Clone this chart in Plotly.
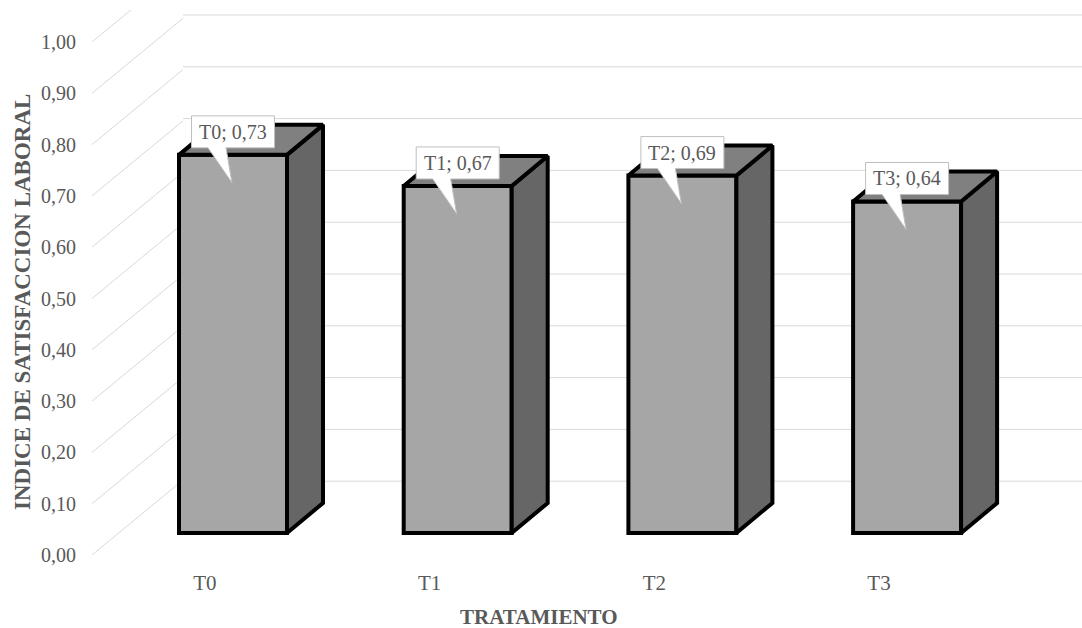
import plotly.graph_objects as go

# ---------------- data ----------------
categories = ["T0", "T1", "T2", "T3"]
values = [0.73, 0.67, 0.69, 0.64]
tick_vals = [0.0, 0.1, 0.2, 0.3, 0.4, 0.5, 0.6, 0.7, 0.8, 0.9, 1.0]
tick_text = ["0,00", "0,10", "0,20", "0,30", "0,40", "0,50", "0,60", "0,70", "0,80", "0,90", "1,00"]
label_text = [f"{c}; {v:.2f}".replace(".", ",") for c, v in zip(categories, values)]
x_title = "TRATAMIENTO"
y_title = "INDICE DE SATISFACCION LABORAL"

# ---------------- geometry / style ----------------
W, H = 1082, 628
ML, MR, MT, MB = 0, 0, 10, 60
PX_X = 224.7          # pixels per category step
PX_Y = 518.0          # pixels per value unit (front plane)
X0_PX = 233.0         # pixel of first category centre
Y0_PX = 533.0         # pixel of value 0 (front plane)

x_range = [(ML - X0_PX) / PX_X, (W - MR - X0_PX) / PX_X]
y_range = [(Y0_PX - (H - MB)) / PX_Y, (Y0_PX - MT) / PX_Y]
# tick-label axis (Excel places labels on the side wall front edge)
LBL0_PX, LBL_PX = 555.0, 513.0
y2_range = [(LBL0_PX - (H - MB)) / LBL_PX, (LBL0_PX - MT) / LBL_PX]

BAR_W = 108 / PX_X
DX = 36 / PX_X
DY = 30 / PX_Y
WALL_FRONT_X = (92 - X0_PX) / PX_X
WALL_BACK_X = (183 - X0_PX) / PX_X
WALL_DY = 75 / PX_Y

FRONT_C = "#a6a6a6"
SIDE_C = "#666666"
TOP_C = "#808080"
GRID_C = "#d9d9d9"
TEXT_C = "#595959"
FONT = "Liberation Serif"

fig = go.Figure()
shapes = []

# back-wall gridlines
for v in tick_vals[1:]:
    shapes.append(dict(type="line", xref="x", yref="y", layer="below",
                       x0=WALL_BACK_X, x1=x_range[1], y0=v, y1=v,
                       line=dict(color=GRID_C, width=1)))
# side-wall gridlines (diagonals)
for v in tick_vals:
    yf = (LBL_PX * v - (LBL0_PX - Y0_PX)) / PX_Y
    shapes.append(dict(type="line", xref="x", yref="y", layer="below",
                       x0=WALL_FRONT_X, x1=WALL_BACK_X, y0=yf, y1=yf + WALL_DY,
                       line=dict(color=GRID_C, width=1)))

xs = list(range(len(categories)))

# front faces
fig.add_trace(go.Bar(x=xs, y=values, width=BAR_W, base=0,
                     marker=dict(color=FRONT_C, line=dict(color="black", width=4)),
                     hoverinfo="skip", showlegend=False))

# side and top faces
for x, v in zip(xs, values):
    r = x + BAR_W / 2
    l = x - BAR_W / 2
    fig.add_trace(go.Scatter(
        x=[r, r + DX, r + DX, r, r], y=[0, DY, v + DY, v, 0],
        fill="toself", fillcolor=SIDE_C, mode="lines",
        line=dict(color="black", width=4), hoverinfo="skip", showlegend=False))
    fig.add_trace(go.Scatter(
        x=[l, l + DX, r + DX, r, l], y=[v, v + DY, v + DY, v, v],
        fill="toself", fillcolor=TOP_C, mode="lines",
        line=dict(color="black", width=4), hoverinfo="skip", showlegend=False))

# callout data labels
BOX_W = 83 / PX_X
BOX_H = 32 / PX_Y
BOX_OFF = 23 / PX_Y
annotations = []
for x, v, t in zip(xs, values, label_text):
    cy = v + BOX_OFF
    l, r = x - BOX_W / 2, x + BOX_W / 2
    b, tp = cy - BOX_H / 2, cy + BOX_H / 2
    t1, t2 = x - 25 / PX_X, x - 7 / PX_X
    tipx, tipy = x - 1 / PX_X, v - 28 / PX_Y
    path = (f"M {l},{tp} L {r},{tp} L {r},{b} L {t2},{b} L {tipx},{tipy} "
            f"L {t1},{b} L {l},{b} Z")
    shapes.append(dict(type="path", xref="x", yref="y", layer="above", path=path,
                       fillcolor="white", line=dict(color="#bfbfbf", width=1)))
    annotations.append(dict(x=x, y=cy, xref="x", yref="y", text=t, showarrow=False,
                            xanchor="center", yanchor="middle",
                            font=dict(family=FONT, size=20, color=TEXT_C)))

# axis titles
annotations.append(dict(x=539 / W, y=(H - MB - 617) / (H - MB - MT), xref="paper", yref="paper",
                        text=f"<b>{x_title}</b>", showarrow=False,
                        xanchor="center", yanchor="middle",
                        font=dict(family=FONT, size=21, color=TEXT_C)))
annotations.append(dict(x=22 / W, y=(H - MB - 302) / (H - MB - MT), xref="paper", yref="paper",
                        text=f"<b>{y_title}</b>", showarrow=False, textangle=-90,
                        xanchor="center", yanchor="middle",
                        font=dict(family=FONT, size=23, color=TEXT_C)))

# invisible trace on y2 so the label axis renders
fig.add_trace(go.Scatter(x=[xs[0]], y=[tick_vals[0]], yaxis="y2", mode="markers",
                         marker=dict(opacity=0), hoverinfo="skip", showlegend=False))

fig.update_layout(
    width=W, height=H,
    margin=dict(l=ML, r=MR, t=MT, b=MB),
    paper_bgcolor="white", plot_bgcolor="white",
    font=dict(family=FONT, size=20, color=TEXT_C),
    xaxis=dict(range=x_range, tickvals=[x - 0.125 for x in xs], ticktext=categories,
               showgrid=False, zeroline=False, showline=False, ticks="",
               tickfont=dict(family=FONT, size=21, color=TEXT_C), fixedrange=True),
    yaxis=dict(range=y_range, showgrid=False, zeroline=False, showline=False,
               showticklabels=False, ticks="", fixedrange=True),
    yaxis2=dict(range=y2_range, overlaying="y", anchor="free", position=76 / W, side="left",
                tickvals=tick_vals, ticktext=tick_text, showgrid=False, zeroline=False,
                showline=False, ticks="", tickfont=dict(family=FONT, size=20, color=TEXT_C),
                fixedrange=True),
    shapes=shapes,
    annotations=annotations,
    showlegend=False,
)

fig.write_html("out.html")
